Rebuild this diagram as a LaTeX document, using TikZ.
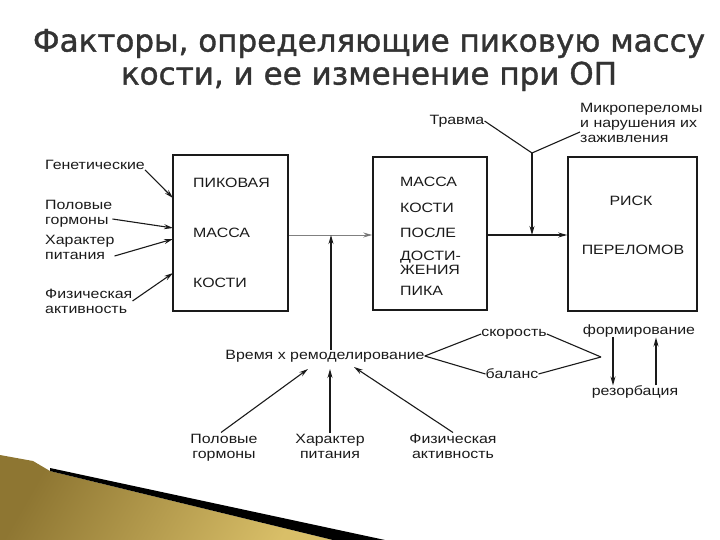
\documentclass[tikz,border=0pt]{standalone}
\usepackage{fontspec}
\setmainfont{Liberation Sans}[FakeStretch=1.18]
\newfontfamily\titlefont{DejaVu Sans}[FakeBold=1.2]
\usetikzlibrary{arrows.meta}
\definecolor{golddark}{HTML}{8E7632}
\definecolor{goldlight}{HTML}{D9BF68}
\definecolor{ink}{HTML}{1A1A1A}
\begin{document}
\begin{tikzpicture}[x=1pt,y=-1pt,
  box/.style={draw=ink, line width=1.6pt, inner sep=0pt},
  lbl/.style={font=\fontsize{13.5}{15}\selectfont, inner sep=0pt, align=left, text=ink},
  captxt/.style={font=\fontsize{13.5}{13}\selectfont, inner sep=0pt, align=left, text=ink},
  conn/.style={line width=1.1pt, draw=ink},
  arr/.style={conn, -{Stealth[length=9pt,width=5pt]}},
]
\useasboundingbox (0,0) rectangle (720,540);
% decorative corner
\shade[left color=golddark, right color=goldlight, shading angle=60]
  (0,455) -- (33,461) -- (50,471) -- (333,540) -- (0,540) -- cycle;
\fill[black] (50,468) -- (385,540) -- (333,540) -- (50,471) -- cycle;

% title
\node[font=\titlefont\fontsize{31}{33}\selectfont, text=black!80, align=center, inner sep=0pt]
  (title) at (369,60) {Факторы, определяющие пиковую массу\\кости, и ее изменение при ОП};

% boxes
\node[box, minimum width=115pt, minimum height=156pt] (b1) at (230.5,233) {};
\node[box, minimum width=114pt, minimum height=153pt] (b2) at (430,233.5) {};
\node[box, minimum width=129pt, minimum height=154pt] (b3) at (632.5,234) {};

% box texts
\node[captxt, anchor=west] (t11) at (193,183) {ПИКОВАЯ};
\node[captxt, anchor=west] (t12) at (193,233) {МАССА};
\node[captxt, anchor=west] (t13) at (193,283) {КОСТИ};
\node[captxt, anchor=west] (t21) at (400,182) {МАССА};
\node[captxt, anchor=west] (t22) at (400,208) {КОСТИ};
\node[captxt, anchor=west] (t23) at (400,233) {ПОСЛЕ};
\node[captxt, anchor=north west] (t24) at (400,251) {\strut ДОСТИ-\\\strut ЖЕНИЯ};
\node[captxt, anchor=west] (t25) at (400,291) {ПИКА};
\node[captxt] (t31) at (631,201) {РИСК};
\node[captxt] (t32) at (633,250) {ПЕРЕЛОМОВ};

% left factors
\node[lbl, anchor=west] (gen) at (45,165) {Генетические};
\node[lbl, anchor=west] (pol) at (45,214) {Половые\\гормоны};
\node[lbl, anchor=west] (har) at (45,247) {Характер\\питания};
\node[lbl, anchor=west] (fiz) at (45,301) {Физическая\\активность};
\coordinate (p1) at (173,198);
\coordinate (p2) at (173,228);
\coordinate (p3) at (173,239);
\coordinate (p4) at (173,273);
\draw[arr] (gen.south east) -- (p1);
\draw[arr] ([yshift=-5pt]pol.east) -- (p2);
\draw[arr] ([yshift=-9pt]har.east) -- (p3);
\draw[arr] (fiz.east) -- (p4);

% main flow
\coordinate (j1) at (331,235);
\coordinate (j3) at (532,235);
\draw[line width=0.8pt, draw=gray, -{Stealth[length=9pt,width=5pt,fill=ink]}] (b1.east |- j1) -- (b2.west |- j1);
\draw[arr] (b2.east |- j3) -- (b3.west |- j3);

% top influences
\node[lbl, anchor=center] (trav) at (457,121) {Травма};
\node[lbl, anchor=west] (mikro) at (580,123) {Микропереломы\\и нарушения их\\заживления};
\coordinate (j2) at (532,153);
\draw[conn] (trav.east) -- (j2);
\draw[conn] ([yshift=-9pt]mikro.west) -- (j2);
\draw[arr] (j2) -- (j3);

% remodeling
\node[lbl] (vrem) at (325,356) {Время х ремоделирование};
\draw[arr] (vrem.north -| j1) -- (j1);
\node[lbl] (skor) at (514,334) {скорость};
\node[lbl] (bal) at (512,374) {баланс};
\coordinate (j4) at (601,357);
\draw[conn] (vrem.east) -- (skor.west);
\draw[conn] (vrem.east) -- (bal.west);
\draw[conn] (skor.east) -- (j4);
\draw[conn] (bal.east) -- (j4);
\node[lbl] (form) at (639,331) {формирование};
\node[lbl] (rez) at (635,392) {резорбация};
\coordinate (dA) at (613,0);
\coordinate (dB) at (656,0);
\draw[arr] (form.south -| dA) -- (rez.north -| dA);
\draw[arr] (rez.north -| dB) -- (form.south -| dB);

% bottom factors
\node[lbl, align=center, anchor=north] (bpol) at (224,432.5) {\strut Половые\\\strut гормоны};
\node[lbl, align=center, anchor=north] (bhar) at (330,432.5) {\strut Характер\\\strut питания};
\node[lbl, align=center, anchor=north] (bfiz) at (453,432.5) {\strut Физическая\\\strut активность};
\coordinate (q1) at (308,369);
\coordinate (q2) at (330,369);
\coordinate (q3) at (354,367);
\draw[arr] ([xshift=-3pt]bpol.north) -- (q1);
\draw[arr] (bhar.north -| q2) -- (q2);
\draw[arr] (bfiz.north) -- (q3);
\end{tikzpicture}
\end{document}
